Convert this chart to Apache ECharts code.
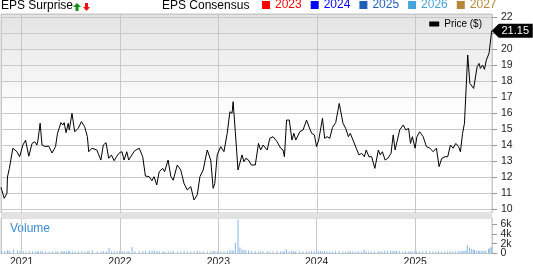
<!DOCTYPE html>
<html>
<head>
<meta charset="utf-8">
<script src="https://cdn.jsdelivr.net/npm/echarts@6/dist/echarts.min.js"></script>
<style>html,body{margin:0;padding:0;background:#fff;}#c{width:533px;height:264px;}</style>
</head>
<body>
<div id="c"></div>
<script>
// ---- data ----
const dates = [
'2020-10-18','2020-10-30','2020-11-09','2020-11-11','2020-11-18','2020-12-01','2020-12-16','2020-12-26','2021-01-07','2021-01-17',
'2021-01-29','2021-02-10','2021-02-20','2021-02-28','2021-03-04','2021-03-12','2021-03-19','2021-03-31','2021-04-13','2021-04-25',
'2021-05-08','2021-05-15','2021-05-28','2021-06-04','2021-06-09','2021-06-16','2021-06-24','2021-06-28','2021-07-08','2021-07-18',
'2021-07-31','2021-08-12','2021-08-24','2021-09-03','2021-09-08','2021-09-20','2021-10-08','2021-10-23','2021-11-01','2021-11-11',
'2021-11-21','2021-12-01','2021-12-11','2021-12-21','2021-12-31','2022-01-09','2022-01-17','2022-01-27','2022-02-03','2022-02-15',
'2022-02-25','2022-03-14','2022-03-27','2022-04-06','2022-04-20','2022-04-30','2022-05-08','2022-05-18','2022-05-27','2022-06-09',
'2022-06-16','2022-06-29','2022-07-09','2022-07-18','2022-08-02','2022-08-15','2022-08-27','2022-09-08','2022-09-21','2022-10-03',
'2022-10-15','2022-10-25','2022-11-06','2022-11-21','2022-12-04','2022-12-13','2022-12-19','2022-12-28','2023-01-10','2023-01-22',
'2023-02-03','2023-02-13','2023-02-21','2023-02-25','2023-03-05','2023-03-15','2023-03-22','2023-03-30','2023-04-06','2023-04-13',
'2023-04-23','2023-05-03','2023-05-18','2023-05-30','2023-06-07','2023-06-16','2023-07-01','2023-07-11','2023-07-23','2023-08-07',
'2023-08-20','2023-08-29','2023-09-03','2023-09-11','2023-09-21','2023-10-01','2023-10-08','2023-10-15','2023-10-30','2023-11-11',
'2023-11-24','2023-12-03','2023-12-13','2023-12-23','2023-12-31','2024-01-08','2024-01-15','2024-01-22','2024-01-30','2024-02-08',
'2024-02-18','2024-02-28','2024-03-11','2024-03-24','2024-04-07','2024-04-17','2024-04-27','2024-05-04','2024-05-14','2024-05-26',
'2024-06-05','2024-06-15','2024-06-25','2024-07-02','2024-07-12','2024-07-22','2024-08-03','2024-08-16','2024-08-23','2024-08-31',
'2024-09-10','2024-09-20','2024-10-02','2024-10-10','2024-10-17','2024-10-24','2024-11-03','2024-11-16','2024-11-26','2024-12-06',
'2024-12-13','2024-12-20','2024-12-30','2025-01-06','2025-01-16','2025-01-29','2025-02-10','2025-02-23','2025-03-07','2025-03-19',
'2025-03-29','2025-04-08','2025-04-20','2025-04-30','2025-05-10','2025-05-20','2025-05-30','2025-06-09','2025-06-16','2025-06-24',
'2025-07-01','2025-07-08','2025-07-13','2025-07-21','2025-07-28','2025-08-04','2025-08-09','2025-08-17','2025-08-24','2025-08-29',
'2025-09-06','2025-09-13','2025-09-20','2025-09-30','2025-10-05','2025-10-10'
];
const prices = [
11.35,10.67,10.98,12.00,12.54,13.80,13.58,13.27,14.00,14.30,
13.30,14.10,14.20,14.00,14.30,15.36,14.00,13.90,13.93,13.50,
13.90,14.70,15.40,15.25,15.40,14.77,15.36,14.94,15.98,14.83,
15.04,15.46,15.14,14.52,13.58,13.80,13.69,13.06,14.00,14.15,
13.17,13.38,13.02,13.30,13.52,13.58,13.06,13.58,13.06,13.38,
13.64,13.80,13.27,12.06,12.02,11.77,12.02,11.50,12.33,12.54,
12.33,13.06,12.05,11.80,12.75,12.44,11.60,11.19,11.40,10.56,
10.88,12.02,12.44,13.69,13.06,11.29,11.60,13.38,13.90,13.58,
14.73,16.08,15.98,16.71,14.83,12.44,12.54,13.38,12.96,13.17,
13.06,12.75,12.75,14.10,13.69,14.00,13.69,14.42,14.52,14.20,
13.80,13.69,13.27,15.56,15.56,14.31,14.73,14.31,14.83,14.94,
15.56,15.14,14.73,14.63,13.90,14.31,14.31,15.67,14.42,14.52,
14.42,15.10,15.40,16.60,15.36,15.04,14.52,14.73,14.31,13.80,
13.38,13.48,13.27,13.69,13.27,13.27,12.54,13.69,13.38,13.58,
13.06,13.17,13.48,14.63,13.69,14.20,14.94,15.25,14.94,15.04,
14.10,14.52,13.80,14.52,14.83,14.52,13.90,13.80,13.58,13.80,
12.65,13.17,13.27,13.27,14.00,13.80,14.10,13.90,13.58,14.73,
15.36,15.36,19.63,17.85,17.96,17.54,17.54,18.90,19.10,18.79,
19.00,18.73,19.31,19.73,19.73,21.15
];
const volumes = [
550,500,600,550,500,850,650,550,450,400,
450,400,420,400,450,400,450,400,420,400,
420,400,450,400,420,400,550,450,420,400,
420,450,400,420,450,600,420,400,450,420,
1100,450,400,420,500,450,420,400,450,1250,
450,420,450,500,550,600,550,500,450,420,
400,420,400,450,420,400,450,420,400,420,
450,420,400,420,450,500,450,400,420,450,
500,700,550,600,2200,6900,1200,800,700,650,
600,500,450,420,400,450,420,400,420,450,
420,400,450,800,450,550,450,420,400,420,
400,420,450,400,420,450,500,420,400,450,
420,400,420,450,420,400,420,450,420,400,
420,400,800,450,420,400,420,450,420,400,
550,500,600,550,500,550,450,420,400,420,
400,420,400,450,420,400,450,420,400,420,
450,420,400,420,450,420,400,450,500,550,
550,600,1700,1200,900,800,700,600,550,600,
550,500,600,900,1100,1300
];
const volumeTicks = [0, 2000, 4000, 6000];
const volumeTickLabels = ['0', '2k', '4k', '6k'];
const epsYears = ['2023','2024','2025','2026','2027'];
const epsColors = ['#ff0000','#0000ff','#1e5fb8','#44a4dc','#b58738'];
const priceName = 'Price ($)';
const axisStart = '2020-10-18';
const axisEnd = '2025-10-11';

// ---- chart ----
const FONT = 'Liberation Sans, Arial, sans-serif';
const chart = echarts.init(document.getElementById('c'), null, {renderer: 'canvas'});
const priceData = dates.map((d, i) => [d, prices[i]]);
const volData = dates.map((d, i) => [d, volumes[i]]);
const lastIdx = dates.length - 1;

function yearOnly(v) {
  const d = new Date(v);
  return (d.getMonth() === 0 && d.getDate() === 1) ? String(d.getFullYear()) : '';
}

const series = [
  {
    name: priceName, type: 'line', xAxisIndex: 0, yAxisIndex: 0,
    data: priceData, showSymbol: false, symbol: 'none', clip: false,
    color: '#000', lineStyle: {color: '#000', width: 1}, z: 5,
    markPoint: {
      symbol: 'path://M0,7L7,0L41,0L41,14L7,14Z',
      symbolSize: [41, 14], symbolOffset: [20.5, 0], symbolKeepAspect: false,
      itemStyle: {color: '#000'},
      label: {show: true, position: 'inside', color: '#fff', fontSize: 11, fontFamily: FONT, offset: [3, 0],
        formatter: p => Number(p.value).toFixed(2)},
      data: [{coord: [dates[lastIdx], prices[lastIdx]], value: prices[lastIdx]}],
      z: 10
    }
  },
  {
    name: 'Volume', type: 'bar', xAxisIndex: 1, yAxisIndex: 1,
    data: volData, barWidth: 1, itemStyle: {color: '#86b6e3'}
  }
];
epsYears.forEach((y, i) => series.push({name: y, type: 'line', data: [], color: epsColors[i], xAxisIndex: 0, yAxisIndex: 0}));

const option = {
  animation: false,
  backgroundColor: '#fff',
  textStyle: {fontFamily: FONT},
  grid: [
    {left: 1, right: 41, top: 14, height: 199, show: true, borderColor: '#c8c8c8', borderWidth: 1,
      outerBoundsMode: 'none', containLabel: false,
      backgroundColor: new echarts.graphic.LinearGradient(0, 0, 0, 1, [
        {offset: 0, color: '#e3e3e3'}, {offset: 0.5, color: '#ffffff'}, {offset: 1, color: '#ffffff'}])},
    {left: 1, right: 41, top: 218, height: 35.5, show: true, borderColor: '#c8c8c8', borderWidth: 1,
      outerBoundsMode: 'none', containLabel: false, backgroundColor: '#fff'}
  ],
  xAxis: [
    {type: 'time', gridIndex: 0, min: axisStart, max: axisEnd, splitNumber: 5,
      axisLine: {show: false}, axisTick: {show: false}, axisLabel: {show: false},
      splitLine: {show: true, lineStyle: {color: '#c8c8c8', width: 1}}},
    {type: 'time', gridIndex: 1, min: axisStart, max: axisEnd, splitNumber: 5,
      axisLine: {show: true, lineStyle: {color: '#c8c8c8'}}, axisTick: {show: false},
      axisLabel: {show: true, fontSize: 10.5, color: '#222', margin: 3, formatter: yearOnly,
        showMinLabel: false, showMaxLabel: false, hideOverlap: false},
      splitLine: {show: true, lineStyle: {color: '#c8c8c8', width: 1}}}
  ],
  yAxis: [
    {type: 'value', gridIndex: 0, position: 'right', min: 9.75, max: 22.19, minInterval: 1, maxInterval: 1, splitNumber: 12,
      axisLine: {show: false}, axisTick: {show: true, length: 5, lineStyle: {color: '#999'}},
      axisLabel: {fontSize: 10.5, color: '#222', margin: 9, showMinLabel: false, showMaxLabel: false},
      splitLine: {show: true, lineStyle: {color: '#c8c8c8', width: 1}}},
    {type: 'value', gridIndex: 1, position: 'right', min: 0, max: 7200,
      axisLine: {show: false},
      axisTick: {show: true, length: 5, customValues: volumeTicks, lineStyle: {color: '#999'}},
      axisLabel: {show: false},
      splitLine: {show: false}}
  ],
  legend: [
    {data: [priceName], right: 51, top: 19, icon: 'rect', itemWidth: 10, itemHeight: 5, padding: 0,
      selectedMode: false, textStyle: {fontSize: 10, color: '#000'}},
    {data: epsYears.map((y, i) => ({name: y, textStyle: {color: epsColors[i]}})), left: 262, top: -1,
      icon: 'rect', itemWidth: 8, itemHeight: 8, itemGap: 9, padding: 0, selectedMode: false,
      textStyle: {fontSize: 12}}
  ],
  graphic: [
    {id: 'band', type: 'rect', z: 1, silent: true, shape: {x: 1, y: 213, width: 491, height: 5}, style: {fill: '#e2e2e2'}},
    {id: 'eps', type: 'text', left: 1, top: 0, style: {text: 'EPS Surprise', fontSize: 12, fontFamily: FONT, fill: '#000'}},
    {id: 'up', type: 'polygon', shape: {points: [[77, 3], [81, 7], [78.5, 7], [78.5, 11], [75.5, 11], [75.5, 7], [73, 7]]}, style: {fill: '#129412'}},
    {id: 'down', type: 'polygon', shape: {points: [[86.5, 11], [90, 7], [88, 7], [88, 3], [85, 3], [85, 7], [83, 7]]}, style: {fill: '#ee1111'}},
    {id: 'cons', type: 'text', left: 162, top: 0, style: {text: 'EPS Consensus', fontSize: 12, fontFamily: FONT, fill: '#000'}},
    {id: 'vol', type: 'text', left: 10, top: 223, style: {text: 'Volume', fontSize: 12, fontFamily: FONT, fill: '#3b8dd4'}}
  ],
  series: series
};
chart.setOption(option);

// volume axis labels placed through the volume axis scale (avoids auto-hiding of tight labels)
const axisX = chart.convertToPixel({xAxisIndex: 1}, axisEnd);
const volLabelEls = volumeTicks.map((v, i) => ({
  id: 'vt' + i, type: 'text', z: 20,
  x: axisX + 9, y: chart.convertToPixel({yAxisIndex: 1}, v),
  style: {text: volumeTickLabels[i], fontSize: 10.5, fontFamily: FONT, fill: '#222', verticalAlign: 'middle', align: 'left'}
}));
chart.setOption({graphic: volLabelEls});
</script>
</body>
</html>
